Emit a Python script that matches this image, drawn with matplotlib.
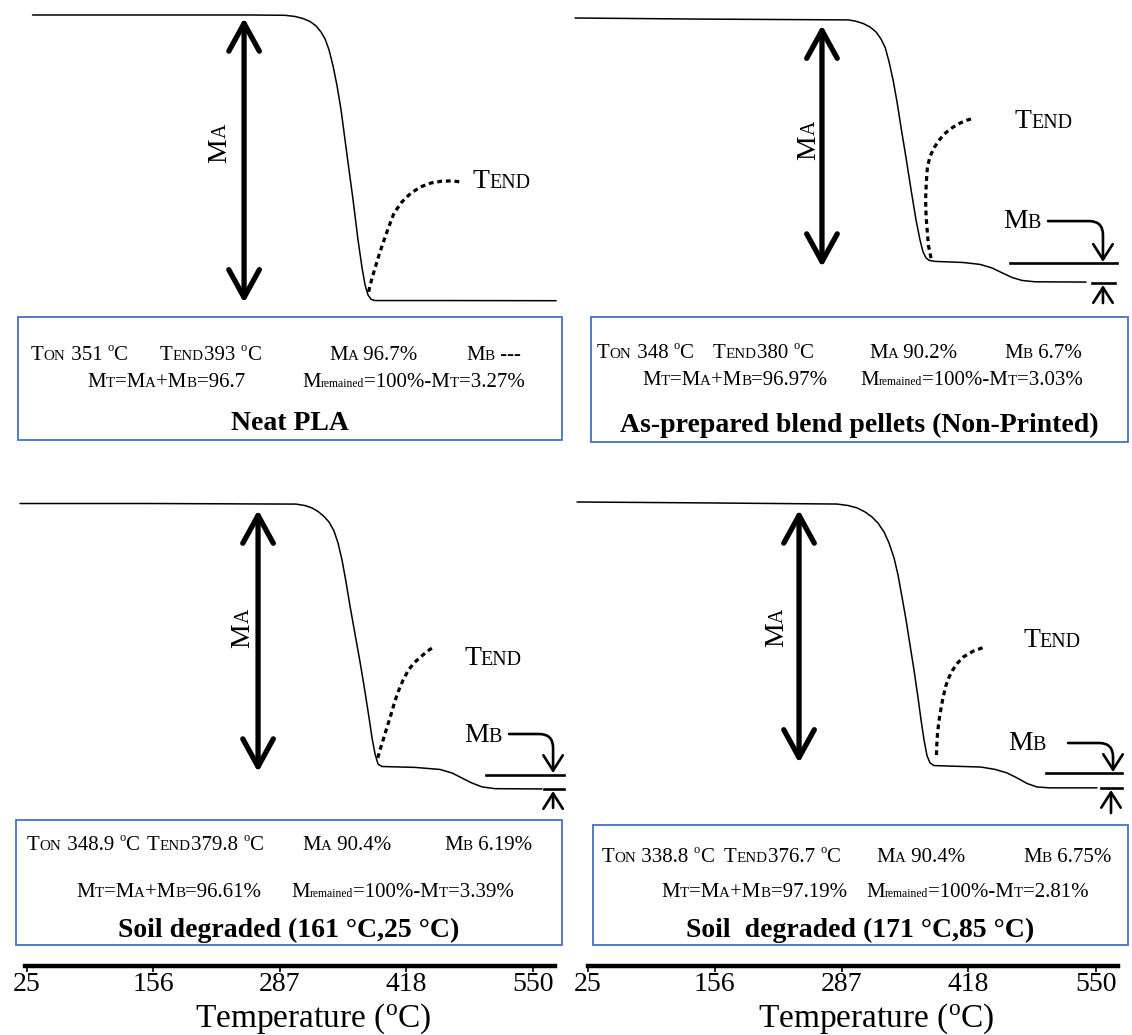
import re
import matplotlib
matplotlib.use('Agg')
import matplotlib.pyplot as plt
from matplotlib.transforms import IdentityTransform
from matplotlib.patches import Rectangle

# ---------------- data (temperature in °C, mass in %) ----------------
neat_temp = [30.7, 100.7, 204.5, 256.4, 292.7, 303.1, 311.4, 318.6, 324.9, 330.1, 334.2, 338.4,
             342.5, 346.7, 350.8, 357.0, 363.3, 368.4, 372.6, 375.7, 378.8, 382.0, 386.1,
             463.9, 573.9]
neat_mass = [100, 100, 100, 100, 99.9, 99.5, 98.8, 97.8, 96.3, 94.2, 91.9, 88.1,
             82.7, 75.9, 67.8, 52.5, 37.2, 23.7, 14.2, 8.4, 5.0, 3.5, 3.1,
             3.1, 3.05]
neat_tend_temp = [379.4, 382.5, 386.5, 390.8, 395.4, 400.5, 405.8, 414.0, 423.4, 433.5, 444.2,
                  455.0, 466.0, 476.3]
neat_tend_mass = [6.1, 10.2, 14.6, 19.2, 23.6, 28.3, 32.8, 36.6, 39.6, 41.7, 43.0,
                  43.6, 43.7, 43.3]

pellet_temp = [11.6, 140.7, 244.1, 293.7, 300.9, 309.2, 316.4, 322.6, 327.8, 332.3, 336.2,
               340.3, 344.4, 348.6, 353.7, 358.9, 364.0, 368.1, 371.2, 374.3, 377.4, 383.6,
               412.6, 430.1, 442.5, 452.9, 463.2, 473.5, 487.0, 539.7]
pellet_mass = [100, 99.6, 99.4, 99.3, 98.9, 98.0, 96.7, 94.9, 92.3, 89.0, 83.8,
               77.2, 69.1, 59.6, 48.6, 36.8, 25.8, 18.5, 14.1, 11.9, 11.0, 10.6,
               10.2, 9.5, 8.2, 6.4, 4.7, 3.6, 3.1, 3.0]
pellet_tend_temp = [379.5, 376.8, 375.8, 374.4, 373.9, 374.6, 375.8, 378.6, 383.2, 388.5, 394.5,
                    401.8, 409.5, 417.0, 424.3]
pellet_tend_mass = [11.8, 16.5, 21.0, 27.0, 33.2, 39.5, 45.3, 49.3, 52.6, 55.4, 57.8,
                    59.8, 61.4, 62.5, 63.3]

soil25_temp = [17.7, 152.6, 304.1, 313.5, 320.7, 326.9, 333.2, 338.4, 343.5, 347.7, 351.8,
               356.0, 360.1, 365.3, 370.5, 375.7, 379.9, 383.0, 386.1, 389.2, 393.3, 427.6,
               453.5, 466.0, 476.3, 486.7, 497.1, 510.6, 559.3]
soil25_mass = [100, 100, 99.8, 99.3, 98.5, 97.3, 95.6, 93.7, 90.7, 86.6, 80.9,
               73.4, 65.3, 55.8, 46.4, 36.2, 27.4, 20.6, 15.2, 11.8, 11.0, 10.7,
               10.0, 8.8, 7.1, 5.4, 4.1, 3.5, 3.4]
soil25_tend_temp = [388.9, 391.5, 394.5, 398.2, 402.0, 405.6, 409.4, 414.8, 420.8, 427.0, 433.8,
                    440.3, 447.0]
soil25_tend_mass = [13.9, 16.9, 20.0, 24.0, 27.9, 31.9, 35.8, 40.0, 43.7, 46.2, 48.2,
                    50.0, 51.5]

soil85_temp = [13.6, 140.7, 282.3, 293.7, 303.0, 311.3, 318.5, 324.7, 330.9, 336.1, 341.3,
               345.4, 349.5, 353.7, 357.8, 361.9, 366.1, 369.2, 372.3, 375.4, 378.5, 382.6,
               431.2, 445.6, 458.0, 468.4, 478.7, 489.0, 502.5, 551.0]
soil85_mass = [100, 99.7, 99.3, 98.8, 98.0, 96.6, 94.9, 92.8, 89.8, 86.0, 80.9,
               75.1, 67.6, 59.8, 51.2, 42.7, 33.2, 25.6, 18.8, 13.4, 11.0, 10.1,
               9.6, 8.8, 7.6, 5.9, 4.0, 2.8, 2.5, 2.5]
soil85_tend_temp = [385.1, 385.5, 386.2, 387.4, 388.9, 391.5, 394.5, 397.9, 401.9, 407.0, 413.1,
                    423.5, 435.5]
soil85_tend_mass = [13.7, 17.4, 21.1, 24.6, 27.9, 32.6, 37.0, 40.1, 42.7, 45.1, 47.2,
                    49.2, 50.6]

sample_titles = ['Neat PLA', 'As-prepared blend pellets (Non-Printed)',
                 'Soil degraded (161 °C,25 °C)', 'Soil  degraded (171 °C,85 °C)']
t_onset = ['351', '348', '348.9', '338.8']
t_endset = ['393', '380', '379.8', '376.7']
mass_a = ['96.7%', '90.2%', '90.4%', '90.4%']
mass_b = ['---', '6.7%', '6.19%', '6.75%']
mass_total = ['96.7', '96.97%', '96.61%', '97.19%']
mass_remained = ['3.27%', '3.03%', '3.39%', '2.81%']

tick_values = [25, 156, 287, 418, 550]
axis_label = r'Temperature ($^{\mathrm{o}}$C)'

# ---------------- style / layout ----------------
W, H = 1132, 1035
plt.rcParams['font.family'] = ['Liberation Serif', 'DejaVu Serif']
plt.rcParams['mathtext.fontset'] = 'custom'
plt.rcParams['mathtext.rm'] = 'Liberation Serif'
plt.rcParams['mathtext.it'] = 'Liberation Serif:italic'
plt.rcParams['mathtext.bf'] = 'Liberation Serif:bold'

fig = plt.figure(figsize=(W / 100, H / 100), dpi=100)
renderer = fig.canvas.get_renderer()
BOX_BLUE = '#4472C4'

TOK = re.compile(r'\{([^}]*)\}|\^\(([^)]*)\)|\[([^\]]*)\]|([^{\[\^]+)')


def parse(s):
    out = []
    for m in TOK.finditer(s):
        if m.group(1) is not None:
            out.append((m.group(1), 0.72, 0.0))
        elif m.group(2) is not None:
            out.append((m.group(2), 0.6, 0.42))
        elif m.group(3) is not None:
            out.append((m.group(3), 0.56, 0.0))
        else:
            out.append((m.group(4), 1.0, 0.0))
    return out


def text_width(s, size, weight='normal'):
    t1 = fig.text(0, 0, '|' + s + '|', fontsize=size, weight=weight)
    t2 = fig.text(0, 0, '||', fontsize=size, weight=weight)
    w = t1.get_window_extent(renderer).width - t2.get_window_extent(renderer).width
    t1.remove()
    t2.remove()
    return w


def rich(x, y, s, size, rotation=0, weight='normal', zorder=5):
    """x, y in display pixels (origin bottom-left), baseline start."""
    segs = parse(s)
    pos = 0.0
    for txt, f, r in segs:
        sz = size * f
        rise = r * size * 100 / 72
        if rotation == 0:
            fig.text(x + pos, y + rise, txt, fontsize=sz, transform=IdentityTransform(),
                     ha='left', va='baseline', weight=weight, zorder=zorder)
        else:
            fig.text(x - rise, y + pos, txt, fontsize=sz, transform=IdentityTransform(),
                     ha='left', va='baseline', rotation=90, rotation_mode='anchor',
                     weight=weight, zorder=zorder)
        pos += text_width(txt, sz, weight)


panels = [
    dict(temp=neat_temp, mass=neat_mass, dtemp=neat_tend_temp, dmass=neat_tend_mass,
         rect=(0, 0, 566, 316), xlim=(-3.04, 584.2), ylim=(-2.14, 105.09),
         arrow=(250.2, 99.0, 2.3), ma=(231.5, 49.8), tend=(487.7, 41.3), mb=None,
         box=(18, 317, 562, 440), l1y=360, l1x=[31, 160, 329, 466], l2y=387, l2x=[87, 302],
         ty=430),
    dict(temp=pellet_temp, mass=pellet_mass, dtemp=pellet_tend_temp, dmass=pellet_tend_mass,
         rect=(566, 0, 1132, 316), xlim=(2.26, 587.2), ylim=(-9.46, 106.61),
         arrow=(266.8, 97.4, 8.5), ma=(259.6, 47.8), tend=(465.3, 59.6),
         mb=dict(label=(453.9, 22.9), arr=(500.4, 25.4, 557.2, 10.4), line=(461.1, 571.7, 10.0),
                 bar=(545.9, 569.7, 2.7), up=(557.2, -4.7, 1.9)),
         box=(591, 317, 1128, 442), l1y=358, l1x=[597, 713, 869, 1004], l2y=385, l2x=[642, 860],
         ty=432),
    dict(temp=soil25_temp, mass=soil25_mass, dtemp=soil25_tend_temp, dmass=soil25_tend_mass,
         rect=(0, 470, 566, 822), xlim=(-3.04, 584.2), ylim=(-7.78, 111.34),
         arrow=(264.7, 97.8, 9.1), ma=(255.3, 51.1), tend=(478.4, 45.3),
         mb=dict(label=(478.4, 19.3), arr=(525.1, 22.0, 570.8, 8.8), line=(501.2, 582.2, 8.1),
                 bar=(561.4, 582.2, 3.4), up=(570.8, -3.0, 2.7)),
         box=(16, 820, 562, 945), l1y=850, l1x=[27, 147, 302, 444], l2y=897, l2x=[76, 291],
         ty=937),
    dict(temp=soil85_temp, mass=soil85_mass, dtemp=soil85_tend_temp, dmass=soil85_tend_mass,
         rect=(566, 470, 1132, 822), xlim=(2.26, 587.2), ylim=(-9.14, 110.91),
         arrow=(243.1, 97.3, 11.0), ma=(226.5, 50.5), tend=(474.6, 50.5),
         mb=dict(label=(459.1, 15.4), arr=(521.1, 17.8, 567.6, 7.9), line=(498.3, 576.9, 7.6),
                 bar=(555.2, 576.9, 2.5), up=(565.5, -6.1, 1.8)),
         box=(593, 825, 1128, 945), l1y=862, l1x=[602, 724, 876, 1023], l2y=897, l2x=[661, 866],
         ty=937),
]

LABEL_PT = 20
BODY_PT = 15
TITLE_PT = 20

for i, p in enumerate(panels):
    x0, y0, x1, y1 = p['rect']
    ax = fig.add_axes([x0 / W, 1 - y1 / H, (x1 - x0) / W, (y1 - y0) / H])
    ax.set_xlim(*p['xlim'])
    ax.set_ylim(*p['ylim'])
    ax.axis('off')
    ax.plot(p['temp'], p['mass'], color='black', lw=1.1, solid_capstyle='round',
            solid_joinstyle='round')
    ax.plot(p['dtemp'], p['dmass'], color='black', lw=2.3, linestyle=(0, (1.5, 1.2)))
    aT, atop, abot = p['arrow']
    ax.annotate('', xy=(aT, atop), xytext=(aT, abot),
                arrowprops=dict(arrowstyle='<->,head_length=1.0,head_width=0.55', lw=3.8,
                                color='black', shrinkA=0, shrinkB=0, mutation_scale=20,
                                capstyle='round', joinstyle='round'))
    fig.canvas.draw()
    mx, my = ax.transData.transform(p['ma'])
    rich(mx, my, 'M{A}', LABEL_PT, rotation=90)
    tx, ty_ = ax.transData.transform(p['tend'])
    rich(tx, ty_, 'T{END}', LABEL_PT)
    mb = p['mb']
    if mb is not None:
        bx, by = ax.transData.transform(mb['label'])
        rich(bx, by, 'M{B}', LABEL_PT)
        s0, m0, s1, m1 = mb['arr']
        ax.annotate('', xy=(s1, m1), xytext=(s0, m0),
                    arrowprops=dict(arrowstyle='->,head_length=0.55,head_width=0.35', lw=1.9,
                                    color='black', shrinkA=0, shrinkB=0, mutation_scale=20,
                                    connectionstyle='angle,angleA=0,angleB=90,rad=14'))
        l0, l1, lm = mb['line']
        ax.plot([l0, l1], [lm, lm], color='black', lw=1.9)
        b0, b1, bm = mb['bar']
        ax.plot([b0, b1], [bm, bm], color='black', lw=1.9)
        ut, u0, u1 = mb['up']
        ax.annotate('', xy=(ut, u1), xytext=(ut, u0),
                    arrowprops=dict(arrowstyle='->,head_length=0.55,head_width=0.35', lw=1.9,
                                    color='black', shrinkA=0, shrinkB=0, mutation_scale=20))

    # info box
    bx0, by0, bx1, by1 = p['box']
    fig.add_artist(Rectangle((bx0, H - by1), bx1 - bx0, by1 - by0, transform=IdentityTransform(),
                             facecolor='white', edgecolor=BOX_BLUE, lw=1.3, zorder=3))
    line1 = [f'T{{ON}} {t_onset[i]} ^(o)C', f'T{{END}}{t_endset[i]} ^(o)C',
             f'M{{A}} {mass_a[i]}', f'M{{B}} {mass_b[i]}']
    line2 = [f'M{{T}}=M{{A}}+M{{B}}={mass_total[i]}', f'M[remained]=100%-M{{T}}={mass_remained[i]}']
    for s, xx in zip(line1, p['l1x']):
        rich(xx, H - p['l1y'], s, BODY_PT)
    for s, xx in zip(line2, p['l2x']):
        rich(xx, H - p['l2y'], s, BODY_PT)
    fig.text((bx0 + bx1) / 2, H - p['ty'], sample_titles[i], transform=IdentityTransform(),
             ha='center', va='baseline', fontsize=TITLE_PT, weight='bold', zorder=5)

# temperature axes
for x0, x1, xlim, label_x in [(25, 555, (22.9, 572.8), 313), (588, 1118, (25.0, 572.7), 876)]:
    axb = fig.add_axes([x0 / W, 1 - 966 / H, (x1 - x0) / W, 1 / H])
    axb.set_xlim(*xlim)
    axb.set_yticks([])
    for side in ['left', 'right', 'top']:
        axb.spines[side].set_visible(False)
    axb.spines['bottom'].set_linewidth(3.2)
    axb.set_xticks(tick_values)
    axb.set_xticklabels([str(v) for v in tick_values])
    axb.tick_params(axis='x', direction='out', length=4, width=1.2, labelsize=20, pad=0)
    axb.set_xlabel(axis_label, fontsize=24)
    axb.xaxis.set_label_coords(label_x, H - 1002, transform=IdentityTransform())
    axb.patch.set_alpha(0)

fig.savefig('out.png', dpi=100, facecolor='white')
